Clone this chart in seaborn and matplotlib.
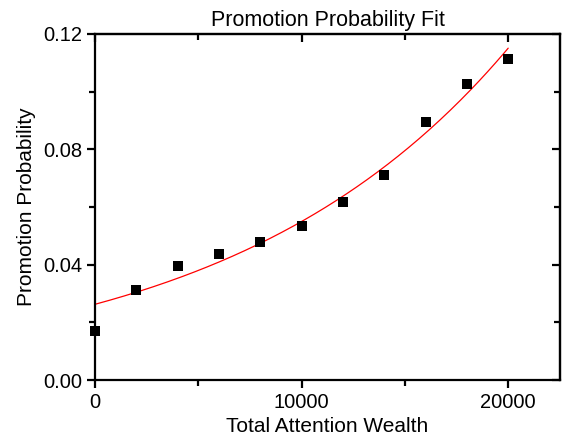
import matplotlib.pyplot as plt
import numpy as np
import pandas as pd
import seaborn as sns
from matplotlib.ticker import MultipleLocator

sns.set_theme(style="ticks")
plt.rcParams["font.family"] = ["Liberation Sans", "DejaVu Sans"]
plt.rcParams["text.color"] = "black"
plt.rcParams["axes.labelcolor"] = "black"

# Measured points
wealth = [0, 2000, 4000, 6000, 8000, 10000, 12000, 14000, 16000, 18000, 20000]
probability = [0.0170, 0.0314, 0.0394, 0.0438, 0.0478, 0.0533, 0.0618, 0.0711, 0.0894, 0.1028, 0.1114]

# Exponential fit parameters: y = a * exp(b * x)
fit_a = 0.0263
fit_b = 7.38e-5
fit_x_max = 20000

df = pd.DataFrame({"wealth": wealth, "probability": probability})
fit_x = np.linspace(0, fit_x_max, 200)
fit_df = pd.DataFrame({"wealth": fit_x, "probability": fit_a * np.exp(fit_b * fit_x)})

fig = plt.figure(figsize=(5.73, 4.41), dpi=100)
ax = fig.add_axes([0.166, 0.138, 0.811, 0.785])

sns.lineplot(data=fit_df, x="wealth", y="probability", color="red", linewidth=0.9, ax=ax)
sns.scatterplot(data=df, x="wealth", y="probability", marker="s", s=42, color="black",
                edgecolor="black", linewidth=0, ax=ax, zorder=3, clip_on=False)

ax.set_xlim(0, 22500)
ax.set_ylim(0, 0.12)
ax.xaxis.set_major_locator(MultipleLocator(10000))
ax.xaxis.set_minor_locator(MultipleLocator(5000))
ax.yaxis.set_major_locator(MultipleLocator(0.04))
ax.yaxis.set_minor_locator(MultipleLocator(0.02))
ax.yaxis.set_major_formatter(lambda v, pos: f"{v:.2f}")

for side in ["left", "right", "top", "bottom"]:
    ax.spines[side].set_linewidth(1.6)
    ax.spines[side].set_color("black")

ax.tick_params(axis="both", which="both", direction="out", width=1.6, colors="black",
               labelsize=14.5, top=False, right=False)
ax.tick_params(which="major", length=6)
ax.tick_params(which="minor", length=4)

# mirrored inward ticks on top and right, no labels
top = ax.secondary_xaxis("top")
top.xaxis.set_major_locator(MultipleLocator(10000))
top.xaxis.set_minor_locator(MultipleLocator(5000))
top.tick_params(which="both", direction="in", width=1.6, labeltop=False, colors="black")
top.tick_params(which="major", length=6)
top.tick_params(which="minor", length=4)
top.spines["top"].set_linewidth(1.6)
right = ax.secondary_yaxis("right")
right.yaxis.set_major_locator(MultipleLocator(0.04))
right.yaxis.set_minor_locator(MultipleLocator(0.02))
right.tick_params(which="both", direction="in", width=1.6, labelright=False, colors="black")
right.tick_params(which="major", length=6)
right.tick_params(which="minor", length=4)
right.spines["right"].set_linewidth(1.6)

ax.set_xlabel("Total Attention Wealth", fontsize=15, labelpad=3)
ax.set_ylabel("Promotion Probability", fontsize=15, labelpad=5)
ax.set_title("Promotion Probability Fit", fontsize=15.5, pad=6)

fig.savefig("out.png", dpi=100)
